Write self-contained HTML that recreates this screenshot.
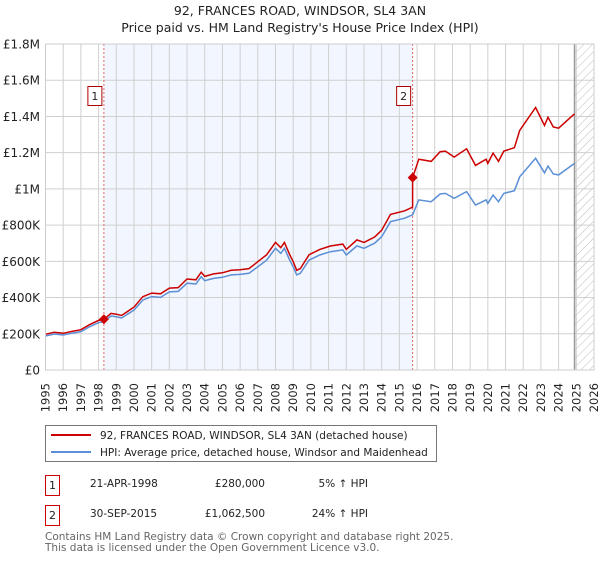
<!DOCTYPE html>
<html><head><meta charset="utf-8"><style>
body{margin:0;background:#fff;}
svg text{font-family:"DejaVu Sans","Liberation Sans",sans-serif;}
</style></head><body>
<svg id="c" width="600" height="560" viewBox="0 0 600 560" xmlns="http://www.w3.org/2000/svg">
<defs>
<pattern id="hatch" width="6" height="6" patternUnits="userSpaceOnUse" patternTransform="rotate(45)">
<line x1="0" y1="0" x2="0" y2="6" stroke="#bbb" stroke-width="1"/>
</pattern>
</defs>
<text x="300" y="15" text-anchor="middle" font-size="12.5" fill="#222">92, FRANCES ROAD, WINDSOR, SL4 3AN</text>
<text x="300" y="32" text-anchor="middle" font-size="12.5" fill="#222">Price paid vs. HM Land Registry's House Price Index (HPI)</text>
<g id="plot"></g>
<g>
<rect x="45.5" y="425.5" width="391" height="36" fill="#fff" stroke="#777"/>
<line x1="51" y1="435" x2="91" y2="435" stroke="#cc0000" stroke-width="2"/>
<text x="100" y="439" font-size="10.5" fill="#222">92, FRANCES ROAD, WINDSOR, SL4 3AN (detached house)</text>
<line x1="51" y1="452" x2="91" y2="452" stroke="#5b8fd6" stroke-width="2"/>
<text x="100" y="456" font-size="10.5" fill="#222">HPI: Average price, detached house, Windsor and Maidenhead</text>
</g>
<g>
<rect x="45.5" y="475.5" width="14" height="20" fill="#fff" stroke="#cc0000"/>
<text x="52.5" y="489" text-anchor="middle" font-size="11" fill="#222">1</text>
<text x="90" y="487" font-size="10.5" fill="#222">21-APR-1998</text>
<text x="265" y="487" text-anchor="end" font-size="10.5" fill="#222">£280,000</text>
<text x="368" y="487" text-anchor="end" font-size="10.5" fill="#222">5% ↑ HPI</text>
<rect x="45.5" y="505.5" width="14" height="20" fill="#fff" stroke="#cc0000"/>
<text x="52.5" y="519" text-anchor="middle" font-size="11" fill="#222">2</text>
<text x="90" y="517" font-size="10.5" fill="#222">30-SEP-2015</text>
<text x="265" y="517" text-anchor="end" font-size="10.5" fill="#222">£1,062,500</text>
<text x="368" y="517" text-anchor="end" font-size="10.5" fill="#222">24% ↑ HPI</text>
</g>
<text x="45" y="540" font-size="10.5" fill="#666">Contains HM Land Registry data © Crown copyright and database right 2025.</text>
<text x="45" y="551" font-size="10.5" fill="#666">This data is licensed under the Open Government Licence v3.0.</text>
</svg>
<script>
const hpiYears = [1995.0,1995.5,1996.0,1996.5,1997.0,1997.5,1998.0,1998.3,1998.7,1999.0,1999.3,2000.0,2000.5,2001.0,2001.5,2002.0,2002.5,2003.0,2003.5,2003.8,2004.0,2004.5,2005.0,2005.5,2006.0,2006.5,2007.0,2007.5,2008.0,2008.3,2008.5,2008.8,2009.0,2009.2,2009.4,2009.9,2010.5,2011.1,2011.8,2012.0,2012.6,2013.0,2013.6,2014.0,2014.5,2015.3,2015.75,2016.1,2016.8,2017.3,2017.6,2018.1,2018.8,2019.3,2019.9,2020.0,2020.3,2020.6,2020.9,2021.5,2021.8,2022.7,2023.2,2023.4,2023.7,2024.0,2024.9];
const hpiValues = [188,199,193,203,212,239,261,267,298,294,287,331,386,405,401,431,434,479,475,515,493,506,512,525,528,534,570,607,672,644,672,607,570,525,534,607,635,653,663,635,685,672,700,736,819,838,857,939,929,972,975,948,985,911,939,920,966,929,975,990,1067,1169,1089,1126,1082,1077,1141];
const saleYears = [1998.3, 2015.75];
const salePrices = [280, 1062.5];
const saleLabels = ["1","2"];
const yTicks = [0,200,400,600,800,1000,1200,1400,1600,1800];
const yTickLabels = ["£0","£200K","£400K","£600K","£800K","£1M","£1.2M","£1.4M","£1.6M","£1.8M"];
const xTicks = [];
for (let y=1995;y<=2026;y++) xTicks.push(y);

const X0=45.5, X1=594, Y0=370, Y1=44;
const xs = t => X0 + (t-1995)/(2026-1995)*(X1-X0);
const ys = v => Y0 - v/1800*(Y0-Y1);
const NS="http://www.w3.org/2000/svg";
const g=document.getElementById('plot');
function mk(tag, attrs){const e=document.createElementNS(NS,tag);for(const k in attrs)e.setAttribute(k,attrs[k]);g.appendChild(e);return e;}
function hpiAt(t){for(let i=0;i<hpiYears.length-1;i++){if(t<=hpiYears[i+1]){const f=(t-hpiYears[i])/(hpiYears[i+1]-hpiYears[i]);return hpiValues[i]+f*(hpiValues[i+1]-hpiValues[i]);}}return hpiValues[hpiValues.length-1];}

let e;
e=mk('rect',{x:xs(saleYears[0]),y:Y1,width:xs(saleYears[1])-xs(saleYears[0]),height:Y0-Y1,fill:'#eef3fd',opacity:0.75});


const endT=hpiYears[hpiYears.length-1];
e=mk('rect',{x:xs(endT),y:Y1,width:X1-xs(endT),height:Y0-Y1,fill:'url(#hatch)'});


xTicks.forEach(t=>{
  e=mk('line',{x1:xs(t),x2:xs(t),y1:Y1,y2:Y0,stroke:'#d0d0d0','stroke-width':1});
  
  
  e=mk('text',{x:0,y:0,'font-size':11.5,fill:'#222','text-anchor':'end',transform:`translate(${xs(t)+4},${Y0+13}) rotate(-90)`});
  e.textContent=t;
  
  
});
yTicks.forEach((v,i)=>{
  e=mk('line',{x1:X0,x2:X1,y1:ys(v),y2:ys(v),stroke:'#d0d0d0','stroke-width':1});
  
  
  e=mk('text',{x:40,y:ys(v)+4.5,'font-size':12,fill:'#222','text-anchor':'end'});
  e.textContent=yTickLabels[i];
  
  
});
e=mk('line',{x1:xs(endT),x2:xs(endT),y1:Y1,y2:Y0,stroke:'#999','stroke-width':1.5});


saleYears.forEach((t,i)=>{
  e=mk('line',{x1:xs(t),x2:xs(t),y1:Y1,y2:Y0,stroke:'#e06666','stroke-width':1,'stroke-dasharray':'2,2'});
  
  
});
let d=hpiYears.map((t,i)=>(i?'L':'M')+xs(t).toFixed(1)+','+ys(hpiValues[i]).toFixed(1)).join('');
e=mk('path',{d:d,fill:'none',stroke:'#5b8fd6','stroke-width':1.5});


const r1=salePrices[0]/hpiAt(saleYears[0]), r2=salePrices[1]/hpiAt(saleYears[1]);
let pts=[];
hpiYears.forEach((t,i)=>{ if(t<saleYears[1]) pts.push([t,hpiValues[i]*r1]); });
pts.push([saleYears[1],hpiAt(saleYears[1])*r1]);
pts.push([saleYears[1],salePrices[1]]);
hpiYears.forEach((t,i)=>{ if(t>saleYears[1]) pts.push([t,hpiValues[i]*r2]); });
d=pts.map((p,i)=>(i?'L':'M')+xs(p[0]).toFixed(1)+','+ys(p[1]).toFixed(1)).join('');
e=mk('path',{d:d,fill:'none',stroke:'#cc0000','stroke-width':1.5});


saleYears.forEach((t,i)=>{
  const cx=xs(t), cy=ys(salePrices[i]);
  e=mk('path',{d:`M${cx},${cy-5}L${cx+5},${cy}L${cx},${cy+5}L${cx-5},${cy}Z`,fill:'#cc0000'});
  
  
  e=mk('rect',{x:cx-16,y:86.5,width:14,height:19,fill:'#fff',stroke:'#aa0000'});
  
  
  e=mk('text',{x:cx-9,y:100,'font-size':11,fill:'#222','text-anchor':'middle'});
  e.textContent=saleLabels[i];
  
  
});
e=mk('rect',{x:X0,y:Y1,width:X1-X0,height:Y0-Y1,fill:'none',stroke:'#ccc'});


</script>
</body></html>
